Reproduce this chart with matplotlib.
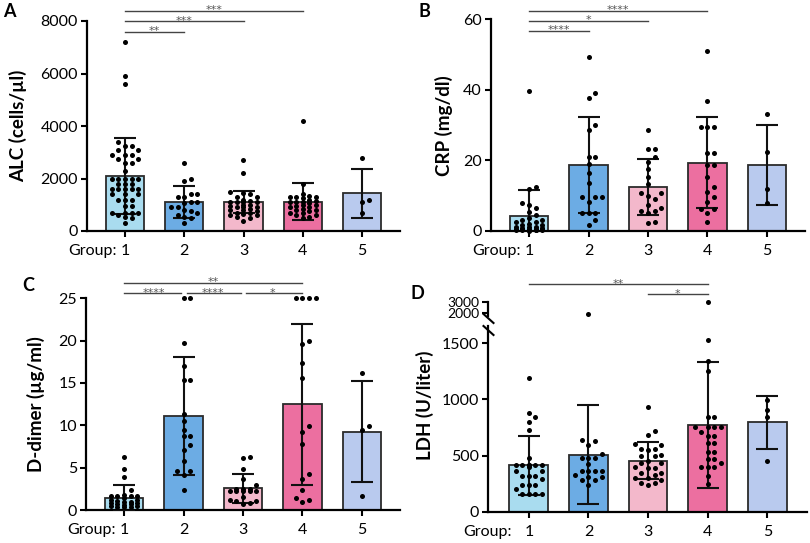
import numpy as np
import matplotlib
matplotlib.use('Agg')
import matplotlib.pyplot as plt
from matplotlib.lines import Line2D

plt.rcParams['font.family'] = ['Lato', 'DejaVu Sans']

groups = ['1', '2', '3', '4', '5']
colors = ['#A9DCEF', '#6CACE4', '#F3B8CB', '#EC6FA0', '#B9CAEE']

# A - ALC (cells/ul)
alc_1 = [7200, 5900, 5600, 3400, 3250, 3250, 3100, 3100, 2900, 2900, 2900, 2750, 2750, 2600, 2600,
         2300, 2000, 2000, 2000, 2000, 2000, 1800, 1800, 1800, 1600, 1600, 1600, 1600, 1600, 1400,
         1400, 1400, 1200, 1200, 1200, 950, 950, 700, 700, 700, 700, 600, 550, 500, 300]
alc_2 = [2600, 2000, 1900, 1400, 1400, 1300, 1300, 1100, 1100, 1050, 900, 900, 800, 750, 700, 600,
         550, 500, 300]
alc_3 = [2700, 2200, 1500, 1450, 1400, 1300, 1300, 1200, 1150, 1100, 1100, 1100, 1100, 1000, 1000,
         950, 900, 900, 900, 850, 800, 800, 750, 700, 700, 650, 600, 600, 550, 500, 400]
alc_4 = [4200, 1800, 1400, 1350, 1300, 1300, 1300, 1250, 1200, 1150, 1100, 1100, 1100, 1050, 1000,
         1000, 950, 900, 900, 850, 800, 800, 750, 700, 700, 600, 600, 550, 500]
alc_5 = [2800, 1200, 1100, 700]
alc_mean = [2100, 1100, 1120, 1120, 1440]
alc_sd = [1450, 600, 420, 700, 930]
alc_sig = [(0, 1, '**', 0), (0, 2, '***', 1), (0, 3, '***', 2)]

# B - CRP (mg/dl)
crp_1 = [39.7, 12.5, 12.0, 8.0, 7.4, 6.4, 5.5, 4.5, 3.6, 3.1, 3.1, 2.6, 2.6, 2.0, 1.6, 1.6, 1.2, 1.0,
         1.0, 0.8, 0.8, 0.7, 0.6, 0.5, 0.5, 0.5, 0.4, 0.4, 0.3, 0.3, 0.2, 0.2, 0.1]
crp_2 = [49.4, 39.2, 37.8, 30.0, 28.6, 20.9, 20.9, 19.0, 16.3, 13.7, 9.5, 9.5, 9.5, 8.1, 5.2, 5.2,
         5.2, 3.1, 1.7]
crp_3 = [28.7, 23.1, 23.1, 21.0, 19.5, 17.6, 15.3, 13.3, 10.7, 10.7, 10.0, 9.0, 7.5, 6.5, 5.6, 5.6,
         5.0, 2.6, 2.3]
crp_4 = [51.0, 36.9, 29.5, 29.5, 29.5, 22.2, 22.2, 18.7, 18.7, 15.4, 12.6, 11.1, 9.7, 8.3, 6.1, 6.1,
         5.0, 2.6]
crp_5 = [33.1, 22.5, 11.8, 7.8]
crp_mean = [4.3, 18.6, 12.5, 19.3, 18.7]
crp_sd = [7.2, 13.6, 8.0, 12.9, 11.4]
crp_sig = [(0, 1, '****', 0), (0, 2, '*', 1), (0, 3, '****', 2)]

# C - D-dimer (ug/ml)
dd_1 = [6.3, 4.9, 3.9, 2.4, 1.8, 1.7, 1.7, 1.6, 1.6, 1.4, 1.2, 1.2, 1.1, 1.0, 0.9, 0.8, 0.8, 0.7,
        0.7, 0.6, 0.5, 0.5, 0.4, 0.4, 0.3]
dd_2 = [25, 25, 19.7, 17.0, 15.3, 15.3, 11.3, 10.5, 9.5, 8.7, 8.7, 7.7, 7.1, 5.8, 4.6, 4.6, 4.1, 2.4]
dd_3 = [6.2, 6.1, 4.8, 3.7, 3.0, 2.5, 2.5, 2.5, 2.2, 2.2, 2.2, 2.2, 2.2, 1.5, 1.2, 1.1, 1.1, 0.8, 0.7]
dd_4 = [25, 25, 25, 25, 20.0, 19.6, 17.4, 15.6, 9.9, 9.2, 7.8, 4.2, 3.7, 2.4, 1.4, 1.2, 1.0]
dd_5 = [16.2, 9.9, 9.4, 1.6]
dd_mean = [1.4, 11.1, 2.56, 12.5, 9.25]
dd_sd = [1.55, 7.0, 1.75, 9.5, 6.0]
dd_sig = [(0, 1, '****', 0), (1, 2, '****', 0), (2, 3, '*', 0), (0, 3, '**', 1)]

# D - LDH (U/liter)
ldh_1 = [1193, 876, 840, 801, 727, 475, 420, 420, 420, 420, 420, 420, 400, 360, 360, 315, 315, 315,
         290, 240, 240, 240, 200, 155, 155, 155, 155]
ldh_2 = [1950, 638, 630, 594, 511, 481, 481, 481, 425, 362, 362, 362, 362, 330, 312, 312, 282, 282, 238]
ldh_3 = [935, 721, 683, 600, 590, 556, 556, 549, 505, 496, 496, 450, 436, 436, 400, 386, 386, 347,
         347, 327, 297, 297, 282, 253, 253, 240]
ldh_4 = [2950, 1529, 1345, 1253, 846, 846, 751, 751, 751, 751, 712, 677, 677, 609, 609, 534, 534,
         467, 467, 431, 401, 401, 401, 318, 244]
ldh_5 = [995, 906, 841, 454]
ldh_mean = [415, 508, 455, 772, 796]
ldh_sd = [262, 440, 168, 563, 238]
ldh_sig = [(2, 3, '*', 0), (0, 3, '**', 1)]

TICK_FS = 11.5


def swarm(ax, x0, vals, d=6.6, maxw=16.0):
    # beeswarm in pixel space, kept inside the bar width
    pts = ax.transData.transform(np.column_stack([np.full(len(vals), x0), vals]))
    order = np.argsort(vals)
    placed = []
    xs = np.zeros(len(vals))
    cands = [0.0]
    k = 1
    while k * d <= maxw:
        cands += [k * d, -k * d]
        k += 1
    for i in order:
        px, py = pts[i]
        best, best_gap = 0.0, -1
        for off in cands:
            gap = min([np.hypot(px + off - qx, py - qy) for qx, qy in placed] or [99])
            if gap >= 0.95 * d:
                best = off
                break
            if gap > best_gap:
                best, best_gap = off, gap
        placed.append((px + best, py))
        xs[i] = ax.transData.inverted().transform((px + best, py))[0]
    return xs


def style(ax, ticks, xlim, group_off):
    ax.set_xlim(*xlim)
    for s in ['top', 'right']:
        ax.spines[s].set_visible(False)
    for s in ['left', 'bottom']:
        ax.spines[s].set_linewidth(1.6)
    ax.set_yticks(ticks)
    ax.set_xticks(range(5))
    ax.set_xticklabels(groups)
    ax.tick_params(axis='both', labelsize=TICK_FS, width=1.5, length=4.5)
    ax.tick_params(axis='x', pad=5)
    ax.tick_params(axis='y', pad=2)
    ax.annotate('Group:', xy=(0, 0), xycoords=('data', 'axes fraction'),
                xytext=(group_off, -9.5), textcoords='offset points', ha='right', va='top',
                fontsize=TICK_FS)


def draw(ax, pts, mean, sd, ylim):
    ax.set_ylim(*ylim)
    ax.bar(range(5), mean, width=0.65, color=colors, edgecolor='#2b2b2b', linewidth=1.3, zorder=1)
    ax.errorbar(range(5), mean, yerr=sd, fmt='none', ecolor='#111111', elinewidth=1.5,
                capsize=8, capthick=1.5, zorder=3)
    for i, vals in enumerate(pts):
        vals = [v for v in vals if ylim[0] <= v <= ylim[1]]
        if not vals:
            continue
        xs = swarm(ax, i, vals)
        ax.scatter(xs, vals, s=13, color='black', linewidths=0, zorder=4, clip_on=False)


def sig(ax, items, y0, step):
    for a, b, stars, lvl in items:
        y = y0 + lvl * step
        x1, x2 = a, b
        if any(it[1] == a and it[3] == lvl for it in items):
            x1 += 0.05
        if any(it[0] == b and it[3] == lvl for it in items):
            x2 -= 0.04
        ax.plot([x1, x2], [y, y], color='#444444', lw=1.0, transform=ax.get_xaxis_transform(),
                clip_on=False)
        ax.annotate(stars, xy=((a + b) / 2, y), xycoords=ax.get_xaxis_transform(),
                    xytext=(0, -3.2), textcoords='offset points', ha='center', va='bottom',
                    fontsize=8, color='#555555', family='DejaVu Sans')


fig = plt.figure(figsize=(8.1, 5.43), dpi=100)
W, H = 810, 543


def add_axes(x0, y0, x1, y1):
    return fig.add_axes([x0 / W, 1 - y1 / H, (x1 - x0) / W, (y1 - y0) / H])


# Panel A
axA = add_axes(87, 21, 400, 231)
style(axA, [0, 2000, 4000, 6000, 8000], (-0.64, 4.64), -6)
draw(axA, [alc_1, alc_2, alc_3, alc_4, alc_5], alc_mean, alc_sd, (0, 8000))
sig(axA, alc_sig, 0.948, 0.05)
axA.set_ylabel('ALC (cells/µl)', fontsize=13.5, fontweight='bold')
axA.yaxis.set_label_coords(-0.19, 0.5)

# Panel B
axB = add_axes(491, 19.3, 805, 231)
style(axB, [0, 20, 40, 60], (-0.64, 4.64), -6)
draw(axB, [crp_1, crp_2, crp_3, crp_4, crp_5], crp_mean, crp_sd, (0, 60))
sig(axB, crp_sig, 0.946, 0.047)
axB.set_ylabel('CRP (mg/dl)', fontsize=13.5, fontweight='bold')
axB.yaxis.set_label_coords(-0.12, 0.5)

# Panel C
axC = add_axes(86, 298.3, 400, 510)
style(axC, [0, 5, 10, 15, 20, 25], (-0.64, 4.64), -6)
draw(axC, [dd_1, dd_2, dd_3, dd_4, dd_5], dd_mean, dd_sd, (0, 25))
sig(axC, dd_sig, 1.024, 0.05)
axC.set_ylabel('D-dimer (µg/ml)', fontsize=13.5, fontweight='bold')
axC.yaxis.set_label_coords(-0.13, 0.5)

# Panel D (broken axis)
ldh_pts = [ldh_1, ldh_2, ldh_3, ldh_4, ldh_5]
axD = add_axes(488.3, 326.4, 806.7, 511.7)
style(axD, [0, 500, 1000, 1500], (-0.68, 4.66), -12)
draw(axD, ldh_pts, ldh_mean, ldh_sd, (0, 1650))
sig(axD, ldh_sig, 1.173, 0.054)
axD.set_ylabel('LDH (U/liter)', fontsize=13.5, fontweight='bold')
axD.yaxis.set_label_coords(-0.17, 0.575)

axDu = add_axes(488.3, 301.7, 806.7, 316.2)
axDu.set_xlim(-0.68, 4.66)
axDu.set_ylim(1750, 3000)
for s in ['top', 'right', 'bottom']:
    axDu.spines[s].set_visible(False)
axDu.spines['left'].set_linewidth(1.6)
axDu.patch.set_alpha(0)
axDu.set_xticks([])
axDu.set_yticks([2000, 3000])
axDu.tick_params(axis='y', labelsize=10, width=1.5, length=4.5, pad=2)
for i, vals in enumerate(ldh_pts):
    hi = [v for v in vals if v > 1650]
    if hi:
        axDu.scatter([i] * len(hi), hi, s=13, color='black', linewidths=0, zorder=4, clip_on=False)

# break marks on the LDH axis
for yc in (318.5, 330.5):
    fig.add_artist(Line2D([483.5 / W, 493.5 / W], [1 - (yc - 4.5) / H, 1 - (yc + 4.5) / H],
                          color='black', lw=1.5))

# panel letters
for lbl, (px, py) in zip('ABCD', [(3, 3), (418, 3), (22, 277), (410, 285)]):
    fig.text(px / W, 1 - py / H, lbl, fontsize=13, fontweight='bold', ha='left', va='top')

fig.savefig('out.png', dpi=100)
